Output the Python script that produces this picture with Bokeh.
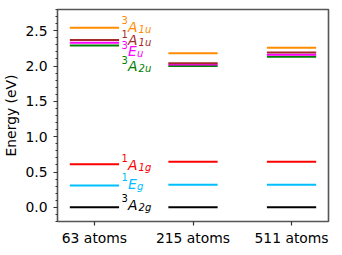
from bokeh.plotting import figure
from bokeh.models import Range1d, FixedTicker, SingleIntervalTicker, ColumnDataSource
from bokeh.embed import file_html
from bokeh.resources import INLINE

# ---- data ----
systems = ["63 atoms", "215 atoms", "511 atoms"]
state_sup = ["3", "1", "1", "3", "3", "1", "3"]
state_main = ["A", "E", "A", "A", "E", "A", "A"]
state_sub = ["2g", "g", "1g", "2u", "u", "1u", "1u"]
state_colors = ["black", "#00bfff", "#ff0000", "#008000", "#ff00ff", "#a52a2a", "#ff8c00"]
energies_63 = [0.0, 0.31, 0.61, 2.29, 2.33, 2.37, 2.54]
energies_215 = [0.0, 0.32, 0.645, 2.00, 2.02, 2.04, 2.18]
energies_511 = [0.0, 0.32, 0.645, 2.13, 2.16, 2.19, 2.26]
label_y = [0.035, 0.333, 0.602, 1.997, 2.207, 2.365, 2.557]
y_ticks = ["0.0", "0.5", "1.0", "1.5", "2.0", "2.5"]

FONT = "DejaVu Sans"
half_w = 0.25
TICK_FS = 13.9
SUP_FS = 10

p = figure(frame_width=271, frame_height=212, output_backend="svg", toolbar_location=None,
           x_range=Range1d(-0.375, 2.375), y_range=Range1d(-0.2, 2.8),
           min_border_left=53, min_border_right=2, min_border_top=9, min_border_bottom=0)
p.xgrid.visible = False
p.ygrid.visible = False
p.outline_line_color = "#555555"
p.outline_line_width = 1.6
p.background_fill_color = "white"
p.border_fill_color = "white"

# levels
all_e = [energies_63, energies_215, energies_511]
x0, x1, ys, cs = [], [], [], []
for k in range(len(state_colors)):
    for i, es in enumerate(all_e):
        x0.append(i - half_w)
        x1.append(i + half_w)
        ys.append(es[k])
        cs.append(state_colors[k])
p.segment(x0=x0, y0=ys, x1=x1, y1=ys, line_color=cs, line_width=2, line_cap="butt")

# labels for 63 atoms
lab_x = 0.275
main_adv = {"A": 0.684, "E": 0.632}
sup_adv = 0.636 * SUP_FS
sup_src = ColumnDataSource(dict(x=[lab_x] * 7, y=label_y, t=state_sup, c=state_colors))
main_src = ColumnDataSource(dict(x=[lab_x] * 7, y=label_y, t=state_main, c=state_colors))
sub_off = [sup_adv + main_adv[m] * TICK_FS + (1.2 if m == "A" else 0.4) for m in state_main]
sub_src = ColumnDataSource(dict(x=[lab_x] * 7, y=label_y, t=state_sub, c=state_colors, xo=sub_off))

p.text(x="x", y="y", text="t", source=sup_src, text_color="c", text_font_size=f"{SUP_FS}px",
       text_font={"value": FONT}, text_baseline="alphabetic", text_align="left", y_offset=-6.5)
p.text(x="x", y="y", text="t", source=main_src, text_color="c", text_font_size=f"{TICK_FS}px",
       text_font={"value": FONT}, text_font_style="italic", text_baseline="alphabetic",
       text_align="left", x_offset=sup_adv)
p.text(x="x", y="y", text="t", source=sub_src, text_color="c", text_font_size=f"{SUP_FS}px",
       text_font={"value": FONT}, text_font_style="italic", text_baseline="alphabetic",
       text_align="left", x_offset="xo", y_offset=2.5)

# axes
p.xaxis.ticker = FixedTicker(ticks=[0, 1, 2], minor_ticks=[])
p.xaxis.major_label_overrides = {i: s for i, s in enumerate(systems)}
p.yaxis.ticker = SingleIntervalTicker(interval=0.5, num_minor_ticks=5)
p.yaxis.major_label_overrides = {i * 0.5: s for i, s in enumerate(y_ticks)}
p.yaxis.axis_label = "Energy (eV)"
for ax in [p.xaxis[0], p.yaxis[0]]:
    ax.axis_line_color = None
    ax.major_tick_line_color = "#333333"
    ax.minor_tick_line_color = "#333333"
    ax.major_tick_line_width = 1.2
    ax.minor_tick_line_width = 1
    ax.major_tick_in = 0
    ax.major_tick_out = 4
    ax.minor_tick_in = 0
    ax.minor_tick_out = 2
    ax.major_label_text_font = FONT
    ax.major_label_text_font_size = f"{TICK_FS}px"
    ax.major_label_text_color = "black"
    ax.axis_label_text_font = FONT
    ax.axis_label_text_font_size = f"{TICK_FS}px"
    ax.axis_label_text_font_style = "normal"
    ax.axis_label_text_color = "black"
p.xaxis.major_label_standoff = 4
p.yaxis.major_label_standoff = 6
p.yaxis.axis_label_standoff = 3

open("out.html", "w").write(file_html(p, INLINE))
